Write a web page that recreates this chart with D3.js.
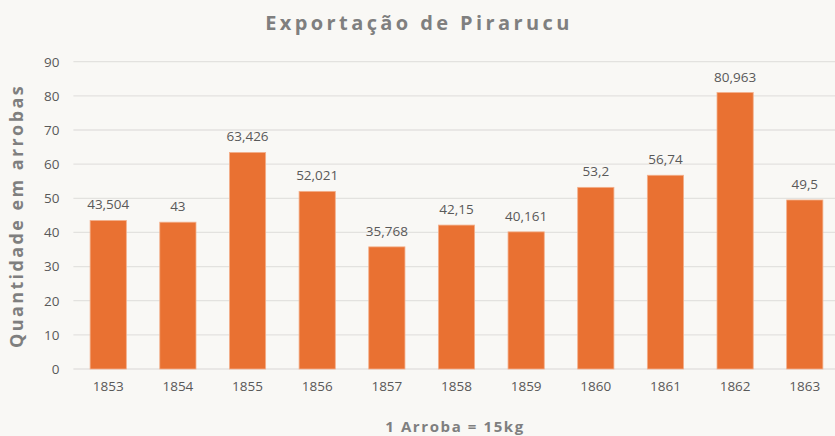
<!DOCTYPE html>
<html lang="pt">
<head>
<meta charset="UTF-8">
<script src="https://d3js.org/d3.v7.min.js"></script>
<style>
  body { margin: 0; background: #f9f8f5; }
  svg { display: block; font-family: "Open Sans", "Noto Sans", sans-serif; }
  .grid line { stroke: #e3e2df; stroke-width: 1.3; }
  .tick text { fill: #595959; font-size: 13.5px; font-family: "Open Sans", "Noto Sans", sans-serif; }
</style>
</head>
<body>
<div id="chart"></div>
<script>
  // values
  var years = ["1853", "1854", "1855", "1856", "1857", "1858", "1859", "1860", "1861", "1862", "1863"];
  var arrobas = [43.504, 43, 63.426, 52.021, 35.768, 42.15, 40.161, 53.2, 56.74, 80.963, 49.5];
  var labels = ["43,504", "43", "63,426", "52,021", "35,768", "42,15", "40,161", "53,2", "56,74", "80,963", "49,5"];
  var yTicks = [0, 10, 20, 30, 40, 50, 60, 70, 80, 90];

  var width = 835, height = 436;
  var plotLeft = 73.4, plotRight = 839.6, plotTop = 61.7, plotBottom = 369;

  var svg = d3.select("#chart").append("svg")
    .attr("width", width)
    .attr("height", height);

  svg.append("rect").attr("width", width).attr("height", height).attr("fill", "#f9f8f5");

  var x = d3.scaleBand().domain(years).range([plotLeft, plotRight]).paddingInner(0.48).paddingOuter(0.24);
  var y = d3.scaleLinear().domain([0, 90]).range([plotBottom, plotTop]);

  // gridlines
  svg.append("g").attr("class", "grid")
    .selectAll("line").data(yTicks).enter().append("line")
    .attr("x1", plotLeft).attr("x2", width)
    .attr("y1", function (d) { return y(d); })
    .attr("y2", function (d) { return y(d); });

  // y axis
  var yAxis = svg.append("g")
    .attr("transform", "translate(" + (plotLeft - 8) + ",0)")
    .call(d3.axisLeft(y).tickValues(yTicks).tickSize(0).tickPadding(6));
  yAxis.select(".domain").remove();

  // x axis
  var xAxis = svg.append("g")
    .attr("transform", "translate(0," + plotBottom + ")")
    .call(d3.axisBottom(x).tickSize(0).tickPadding(12));
  xAxis.select(".domain").remove();

  // bars
  svg.selectAll(".bar").data(arrobas).enter().append("rect")
    .attr("class", "bar")
    .attr("x", function (d, i) { return x(years[i]); })
    .attr("width", x.bandwidth())
    .attr("y", function (d) { return y(d); })
    .attr("height", function (d) { return y(0) - y(d); })
    .attr("fill", "#e97132")
    .attr("stroke", "#f3b08c")
    .attr("stroke-width", 0.8);

  // data labels
  svg.selectAll(".lbl").data(arrobas).enter().append("text")
    .attr("class", "lbl")
    .attr("x", function (d, i) { return x(years[i]) + x.bandwidth() / 2; })
    .attr("y", function (d) { return y(d) - 11; })
    .attr("text-anchor", "middle")
    .attr("fill", "#595959")
    .style("font-size", "13.5px")
    .text(function (d, i) { return labels[i]; });

  // title
  svg.append("text")
    .attr("x", 419).attr("y", 30)
    .attr("text-anchor", "middle")
    .attr("fill", "#7f7f7f")
    .style("font-size", "20px").style("font-weight", "bold")
    .style("letter-spacing", "3.4px")
    .text("Exportação de Pirarucu");

  // y axis title
  svg.append("text")
    .attr("transform", "translate(23,216) rotate(-90)")
    .attr("text-anchor", "middle")
    .attr("fill", "#7f7f7f")
    .style("font-size", "18px").style("font-weight", "bold")
    .style("letter-spacing", "2.4px")
    .text("Quantidade em arrobas");

  // x axis title
  svg.append("text")
    .attr("x", 455).attr("y", 432)
    .attr("text-anchor", "middle")
    .attr("fill", "#7f7f7f")
    .style("font-size", "15px").style("font-weight", "bold")
    .style("letter-spacing", "1.6px")
    .text("1 Arroba = 15kg");
</script>
</body>
</html>
